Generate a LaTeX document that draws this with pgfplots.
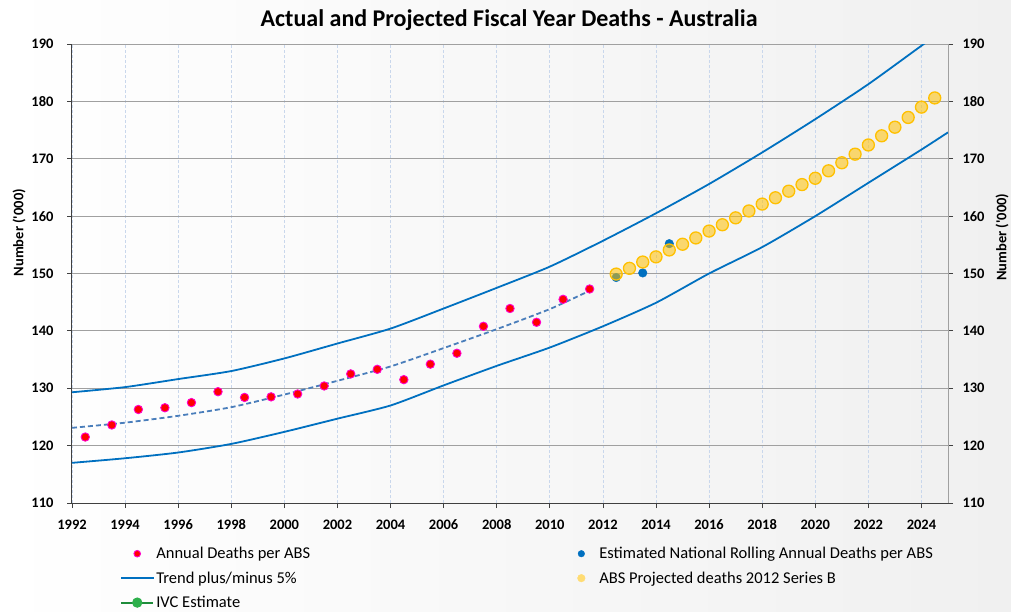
\documentclass[border=0pt]{standalone}
\usepackage{fontspec}
\setmainfont{Carlito}
\usepackage{pgfplots}
\pgfplotsset{compat=1.18}
\definecolor{trendblue}{HTML}{0070C0}
\definecolor{dashblue}{HTML}{4A7EBB}
\definecolor{ptred}{HTML}{FF0000}
\definecolor{ptedge}{HTML}{FF00CC}
\definecolor{gold}{HTML}{FFC000}
\definecolor{paleGold}{HTML}{FFDC73}
\definecolor{gridgray}{HTML}{A0A0A0}
\definecolor{vgrid}{HTML}{C9D7EC}
\definecolor{axisdark}{HTML}{404040}
\definecolor{ivcline}{HTML}{1E8C3A}
\definecolor{ivcmark}{HTML}{2DB04B}
\definecolor{bgA}{HTML}{FFFFFF}
\definecolor{bgB}{HTML}{F0F0F0}
\pgfplotsset{
  common/.style={
    scale only axis, width=876pt, height=459pt,
    xmin=1992, xmax=2025, ymin=110, ymax=190,
    xtick={1992,1994,...,2024}, ytick={110,120,...,190},
    tick align=outside, major tick length=5pt,
    /pgf/number format/1000 sep={},
    /pgf/number format/assume math mode=true,
    ticklabel style={font=\bfseries\fontsize{14.5}{16}\selectfont},
    xticklabel style={yshift=-8pt},
    tick style={axisdark, line width=0.8pt},
  },
  mylegimg/.style={legend image code/.code={\draw[mark repeat=2,mark phase=2,##1] plot coordinates {(0pt,0pt) (16pt,0pt) (32pt,0pt)};}},
  mylegmark/.style={legend image code/.code={\node[draw=none, fill=none, anchor=center, inner sep=0pt, outer sep=0pt, minimum width=32pt, minimum height=1pt] at (16pt,0pt) {};\draw[##1] plot coordinates {(16pt,0pt)};}},
}
\begin{document}
\begin{tikzpicture}
\shade[left color=bgA, right color=bgB] (-72pt,-108pt) rectangle (939pt,503pt);
\useasboundingbox (-72pt,-108pt) rectangle (939pt,503pt);
\begin{axis}[common,
  axis x line*=bottom, axis y line*=left,
  axis line style={axisdark, line width=1pt},
  yticklabel style={xshift=-10pt},
  xmajorgrids, ymajorgrids,
  x grid style={vgrid, dash pattern=on 3pt off 2pt, line width=0.8pt},
  y grid style={gridgray, line width=1pt},
  title={Actual and Projected Fiscal Year Deaths - Australia},
  title style={at={(axis description cs:0.499,1.0385)}, anchor=center, font=\bfseries\fontsize{24}{28}\selectfont},
  ylabel={Number (\textquotesingle 000)},
  every axis y label/.style={at={(axis description cs:-0.0605,0.589)}, rotate=90, anchor=center, font=\bfseries\fontsize{14.5}{16}\selectfont},
  legend columns=2,
  legend cell align=left,
  legend style={at={(axis description cs:0.0513,-0.0872)}, anchor=north west, draw=none, fill=none,
    font=\fontsize{16.5}{19}\selectfont, row sep=7.5pt,
    /tikz/every even column/.append style={column sep=0pt}},
]
% Annual deaths per ABS
\addplot[only marks, mark=*, mark size=4.2pt, mark options={fill=ptred, draw=ptedge, line width=0.9pt}, mylegmark,
  legend image post style={mark size=3.3pt}] coordinates {
(1992.5,121.5) (1993.5,123.6) (1994.5,126.3) (1995.5,126.6) (1996.5,127.5)
(1997.5,129.4) (1998.5,128.4) (1999.5,128.5) (2000.5,129.0) (2001.5,130.4)
(2002.5,132.5) (2003.5,133.3) (2004.5,131.5) (2005.5,134.2) (2006.5,136.1)
(2007.5,140.8) (2008.5,143.9) (2009.5,141.5) (2010.5,145.5) (2011.5,147.3)};
\addlegendentry{\makebox[407pt][l]{Annual Deaths per ABS}}
% Estimated national rolling
\addplot[only marks, mark=*, mark size=4.3pt, mark options={fill=trendblue, draw=trendblue}, mylegmark,
  legend image post style={mark size=3.3pt}] coordinates {
(2012.5,149.3) (2013.5,150.1) (2014.5,155.2)};
\addlegendentry{Estimated National Rolling Annual Deaths per ABS}
% Trend upper
\addplot[trendblue, line width=1.8pt, smooth, tension=0.4, mylegimg] coordinates {
(1992,129.3) (1994,130.2) (1996,131.6) (1998,133.0) (2000,135.2) (2002,137.8)
(2004,140.4) (2006,143.9) (2008,147.5) (2010,151.2) (2012,155.7) (2014,160.5)
(2016,165.6) (2018,171.1) (2020,176.9) (2022,183.0) (2024,189.7) (2025,193.0)};
\addlegendentry{\makebox[407pt][l]{Trend plus/minus 5\%}}
% ABS projected
\addplot[only marks, mark=*, mark size=6pt, mark options={fill=gold, fill opacity=0.55, draw=gold, line width=1.3pt}, mylegmark,
  legend image post style={mark size=3.8pt, mark options={draw=paleGold, fill=paleGold, fill opacity=1}}] coordinates {
(2012.5,149.9) (2013.0,150.9) (2013.5,152.0) (2014.0,152.9) (2014.5,154.1)
(2015.0,155.1) (2015.5,156.2) (2016.0,157.4) (2016.5,158.5) (2017.0,159.7)
(2017.5,160.9) (2018.0,162.1) (2018.5,163.2) (2019.0,164.35) (2019.5,165.5)
(2020.0,166.6) (2020.5,167.9) (2021.0,169.3) (2021.5,170.8) (2022.0,172.4)
(2022.5,174.0) (2023.0,175.5) (2023.5,177.2) (2024.0,179.0) (2024.5,180.6)};
\addlegendentry{ABS Projected deaths 2012 Series B}
% Trend lower
\addplot[trendblue, line width=1.8pt, smooth, tension=0.4, forget plot] coordinates {
(1992,117.0) (1994,117.8) (1996,118.8) (1998,120.3) (2000,122.4) (2002,124.7)
(2004,127.0) (2006,130.5) (2008,133.9) (2010,137.1) (2012,140.8) (2014,144.9)
(2016,150.0) (2018,154.6) (2020,160.0) (2022,165.8) (2024,171.6) (2025,174.6)};
% Trend (dashed)
\addplot[dashblue, line width=1.8pt, dash pattern=on 5pt off 3pt, smooth, tension=0.4, forget plot] coordinates {
(1992,123.1) (1994,124.0) (1996,125.2) (1998,126.7) (2000,128.9) (2002,131.3)
(2004,133.8) (2006,137.0) (2008,140.3) (2010,143.8) (2011.5,147.0)};
% IVC estimate (no data shown)
\addlegendimage{ivcline, line width=2.2pt, mark=*, mark size=4pt, mark options={fill=ivcmark, draw=ivcmark}, mylegimg}
\addlegendentry{IVC Estimate}
\end{axis}
\begin{axis}[common,
  axis x line=none, axis y line*=right,
  axis line style={gridgray, line width=1pt},
  yticklabel style={xshift=6pt},
  ylabel={Number (\textquotesingle 000)},
  every axis y label/.style={at={(axis description cs:1.0616,0.579)}, rotate=90, anchor=center, font=\bfseries\fontsize{14.5}{16}\selectfont},
]
\end{axis}
\end{tikzpicture}
\end{document}
